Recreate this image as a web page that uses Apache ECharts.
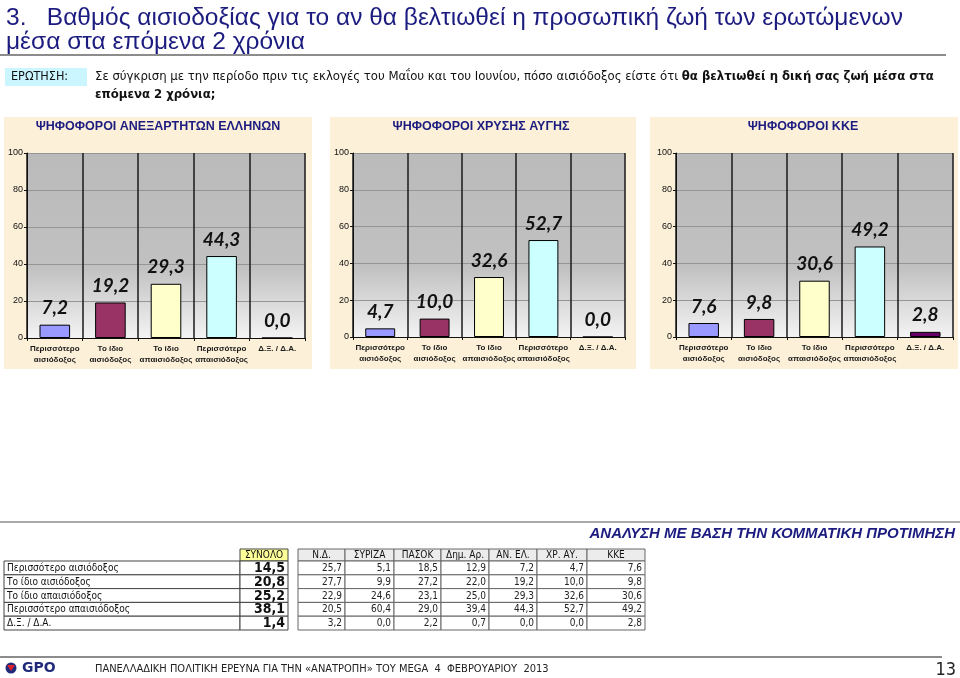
<!DOCTYPE html>
<html><head><meta charset="utf-8">
<script src="https://cdn.jsdelivr.net/npm/echarts@6/dist/echarts.min.js"></script>
<style>html,body{margin:0;padding:0;background:#fff}#c{width:960px;height:678px}</style>
</head><body><div id="c"></div>
<script>
// ---------- DATA ----------
const categories = ['Περισσότερο\nαισιόδοξος','Το ίδιο\nαισιόδοξος','Το ίδιο\nαπαισιόδοξος','Περισσότερο\nαπαισιόδοξος','Δ.Ξ. / Δ.Α.'];
const yTickValues = [0,20,40,60,80,100];
const panelTitles = ['ΨΗΦΟΦΟΡΟΙ ΑΝΕΞΑΡΤΗΤΩΝ ΕΛΛΗΝΩΝ','ΨΗΦΟΦΟΡΟΙ ΧΡΥΣΗΣ ΑΥΓΗΣ','ΨΗΦΟΦΟΡΟΙ ΚΚΕ'];
const anelValues = [7.2, 19.2, 29.3, 44.3, 0.0];
const xaValues   = [4.7, 10.0, 32.6, 52.7, 0.0];
const kkeValues  = [7.6, 9.8, 30.6, 49.2, 2.8];

const rowLabels = ['Περισσότερο αισιόδοξος','Το ίδιο αισιόδοξος','Το ίδιο απαισιόδοξος','Περισσότερο απαισιόδοξος','Δ.Ξ. / Δ.Α.'];
const totalHeader = 'ΣΥΝΟΛΟ';
const totalValues = [14.5, 20.8, 25.2, 38.1, 1.4];
const partyHeaders = ['Ν.Δ.','ΣΥΡΙΖΑ','ΠΑΣΟΚ','Δημ. Αρ.','ΑΝ. ΕΛ.','ΧΡ. ΑΥ.','ΚΚΕ'];
const ndValues     = [25.7, 27.7, 22.9, 20.5, 3.2];
const syrizaValues = [5.1, 9.9, 24.6, 60.4, 0.0];
const pasokValues  = [18.5, 27.2, 23.1, 29.0, 2.2];
const dimarValues  = [12.9, 22.0, 25.0, 39.4, 0.7];
const anelTableValues = [7.2, 19.2, 29.3, 44.3, 0.0];
const xaTableValues   = [4.7, 10.0, 32.6, 52.7, 0.0];
const kkeTableValues  = [7.6, 9.8, 30.6, 49.2, 2.8];
const partyColumns = [ndValues, syrizaValues, pasokValues, dimarValues, anelTableValues, xaTableValues, kkeTableValues];

const titleLine1 = '3.   Βαθμός αισιοδοξίας για το αν θα βελτιωθεί η προσωπική ζωή των ερωτώμενων';
const titleLine2 = 'μέσα στα επόμενα 2 χρόνια';
const questionLabel = 'ΕΡΩΤΗΣΗ:';
const questionPlain = 'Σε σύγκριση με την περίοδο πριν τις εκλογές του Μαΐου και του Ιουνίου, πόσο αισιόδοξος είστε ότι ';
const questionBold1 = 'θα βελτιωθεί η δική σας ζωή μέσα στα';
const questionBold2 = 'επόμενα 2 χρόνια;';
const analysisTitle = 'ΑΝΑΛΥΣΗ ΜΕ ΒΑΣΗ ΤΗΝ ΚΟΜΜΑΤΙΚΗ ΠΡΟΤΙΜΗΣΗ';
const footerText = 'ΠΑΝΕΛΛΑΔΙΚΗ ΠΟΛΙΤΙΚΗ ΕΡΕΥΝΑ ΓΙΑ ΤΗΝ «ΑΝΑΤΡΟΠΗ» ΤΟΥ MEGA  4  ΦΕΒΡΟΥΑΡΙΟΥ  2013';
const pageNumber = '13';

// ---------- STYLE / LAYOUT ----------
const barColors = ['#9999ff','#993366','#ffffcc','#ccffff','#660066'];
const NAVY = '#1c1c80';
const NARROW = '"Liberation Sans Narrow","DejaVu Sans Condensed","Liberation Sans",sans-serif';
const SANS = '"Liberation Sans",Arial,sans-serif';
const seriesData = [anelValues, xaValues, kkeValues];
const panels = [
  {bg:[4,117,308,252],  grid:{left:27, top:153, width:278, height:185}, titleX:158},
  {bg:[330,117,306,252],grid:{left:353,top:153, width:272, height:184}, titleX:481},
  {bg:[650,117,308,252],grid:{left:676,top:153, width:277, height:184}, titleX:803}
];
const fmt = v => v.toFixed(1).replace('.', ',');

const grids = [], xAxes = [], yAxes = [], series = [], graphics = [];
panels.forEach((p, i) => {
  graphics.push({type:'rect', z:-10, shape:{x:p.bg[0], y:p.bg[1], width:p.bg[2], height:p.bg[3]}, style:{fill:'#fcf0d9'}});
  graphics.push({type:'text', z:10, style:{text:panelTitles[i], x:p.titleX, y:127, textAlign:'center', textVerticalAlign:'middle', font:'bold 12.5px ' + SANS, fill:NAVY}});
  grids.push(Object.assign({show:true, borderWidth:0, backgroundColor:{type:'linear', x:0, y:0, x2:0, y2:1, colorStops:[{offset:0,color:'#bababa'},{offset:0.62,color:'#c1c1c1'},{offset:1,color:'#f3f3f3'}]}}, p.grid));
  xAxes.push({type:'category', gridIndex:i, data:categories, boundaryGap:true,
    axisLine:{lineStyle:{color:'#111', width:1}},
    axisTick:{show:true, length:3, lineStyle:{color:'#111'}},
    splitLine:{show:true, lineStyle:{color:'#1a1a1a', width:1.5}},
    axisLabel:{interval:0, margin:5, fontSize:8, fontWeight:'bold', lineHeight:11, color:'#1a1a1a', fontFamily:SANS}});
  yAxes.push({type:'value', gridIndex:i, min:0, max:100, interval:20,
    axisLine:{show:true, lineStyle:{color:'#111'}},
    axisTick:{show:true, length:3, lineStyle:{color:'#111'}},
    splitLine:{show:true, lineStyle:{color:'#959595', width:1}},
    axisLabel:{fontSize:9, color:'#111', margin:4, fontFamily:SANS}});
  series.push({type:'bar', xAxisIndex:i, yAxisIndex:i, barWidth:'55%',
    data: seriesData[i].map((v, k) => ({value:v, itemStyle:{color:barColors[k]}})),
    itemStyle:{borderColor:'#000', borderWidth:1},
    label:{show:true, position:'top', distance:7, formatter:q => fmt(q.value), fontFamily:'Lato,"Open Sans",sans-serif', fontWeight:'bold', fontStyle:'italic', fontSize:19, color:'#111'}});
});

// title
graphics.push({type:'text', style:{text:titleLine1, x:6, y:18, textVerticalAlign:'middle', font:'24.5px ' + SANS, fill:NAVY}});
graphics.push({type:'text', style:{text:titleLine2, x:6, y:42, textVerticalAlign:'middle', font:'24.5px ' + SANS, fill:NAVY}});
graphics.push({type:'line', shape:{x1:0, y1:55, x2:946, y2:55}, style:{stroke:'#8c8c8c', lineWidth:2}});
// question
graphics.push({type:'rect', shape:{x:5, y:68, width:82, height:18}, style:{fill:'#ccf6ff'}});
graphics.push({type:'text', style:{text:questionLabel, x:11, y:77, textVerticalAlign:'middle', font:'12.5px ' + NARROW, fill:'#111'}});
graphics.push({type:'text', style:{text:'{a|' + questionPlain + '}{b|' + questionBold1 + '}', x:95, y:77, textVerticalAlign:'middle',
  rich:{a:{font:'13px ' + NARROW, fill:'#111'}, b:{font:'bold 13px ' + NARROW, fill:'#111'}}}});
graphics.push({type:'text', style:{text:questionBold2, x:95, y:95, textVerticalAlign:'middle', font:'bold 13px ' + NARROW, fill:'#111'}});

// analysis header
graphics.push({type:'line', shape:{x1:0, y1:522, x2:960, y2:522}, style:{stroke:'#555', lineWidth:1}});
graphics.push({type:'text', style:{text:analysisTitle, x:955, y:534, textAlign:'right', textVerticalAlign:'middle', font:'italic bold 15px ' + SANS, fill:NAVY}});

// table
const T = {top:549, hdrH:12, rowH:13.8, lx0:4, lx1:240, tx1:288, edges:[298,345,394,441,489,537,587,645]};
graphics.push({type:'rect', shape:{x:T.lx1, y:T.top, width:T.tx1 - T.lx1, height:T.hdrH}, style:{fill:'#ffff99', stroke:'#444', lineWidth:1}});
graphics.push({type:'text', style:{text:totalHeader, x:(T.lx1 + T.tx1) / 2, y:T.top + T.hdrH / 2 + 0.5, textAlign:'center', textVerticalAlign:'middle', font:'10px ' + NARROW, fill:'#111'}});
partyHeaders.forEach((h, j) => {
  const x0 = T.edges[j], x1 = T.edges[j + 1];
  graphics.push({type:'rect', shape:{x:x0, y:T.top, width:x1 - x0, height:T.hdrH}, style:{fill:'#ececec', stroke:'#666', lineWidth:1}});
  graphics.push({type:'text', style:{text:h, x:(x0 + x1) / 2, y:T.top + T.hdrH / 2 + 0.5, textAlign:'center', textVerticalAlign:'middle', font:'10px ' + NARROW, fill:'#111'}});
});
rowLabels.forEach((lab, r) => {
  const y = T.top + T.hdrH + r * T.rowH, cy = y + T.rowH / 2 + 0.5;
  graphics.push({type:'rect', shape:{x:T.lx0, y:y, width:T.lx1 - T.lx0, height:T.rowH}, style:{fill:'#fff', stroke:'#444', lineWidth:1}});
  graphics.push({type:'text', style:{text:lab, x:T.lx0 + 3, y:cy, textVerticalAlign:'middle', font:'10px ' + NARROW, fill:'#111'}});
  graphics.push({type:'rect', shape:{x:T.lx1, y:y, width:T.tx1 - T.lx1, height:T.rowH}, style:{fill:'#fff', stroke:'#444', lineWidth:1}});
  graphics.push({type:'text', style:{text:fmt(totalValues[r]), x:T.tx1 - 3, y:cy, textAlign:'right', textVerticalAlign:'middle', font:'bold 14px ' + NARROW, fill:'#111'}});
  partyColumns.forEach((col, j) => {
    const x0 = T.edges[j], x1 = T.edges[j + 1];
    graphics.push({type:'rect', shape:{x:x0, y:y, width:x1 - x0, height:T.rowH}, style:{fill:'#fff', stroke:'#666', lineWidth:1}});
    graphics.push({type:'text', style:{text:fmt(col[r]), x:x1 - 3, y:cy, textAlign:'right', textVerticalAlign:'middle', font:'10px ' + NARROW, fill:'#222'}});
  });
});

// footer
graphics.push({type:'line', shape:{x1:0, y1:657, x2:942, y2:657}, style:{stroke:'#8c8c8c', lineWidth:2}});
graphics.push({type:'circle', shape:{cx:11, cy:668, r:5.5}, style:{fill:'#1f2a7a'}});
graphics.push({type:'polygon', shape:{points:[[7,665],[15,665],[11,671]]}, style:{fill:'#e0202a'}});
graphics.push({type:'text', style:{text:'GPO', x:22, y:668, textVerticalAlign:'middle', font:'bold 14px "DejaVu Sans",sans-serif', fill:'#1f2a7a'}});
graphics.push({type:'text', style:{text:footerText, x:95, y:669, textVerticalAlign:'middle', font:'11px ' + NARROW, fill:'#222'}});
graphics.push({type:'text', style:{text:pageNumber, x:956, y:670, textAlign:'right', textVerticalAlign:'middle', font:'18px ' + NARROW, fill:'#222'}});

const chart = echarts.init(document.getElementById('c'), null, {renderer:'canvas'});
chart.setOption({animation:false, backgroundColor:'#fff', grid:grids, xAxis:xAxes, yAxis:yAxes, series:series, graphic:{elements:graphics}});
</script></body></html>
